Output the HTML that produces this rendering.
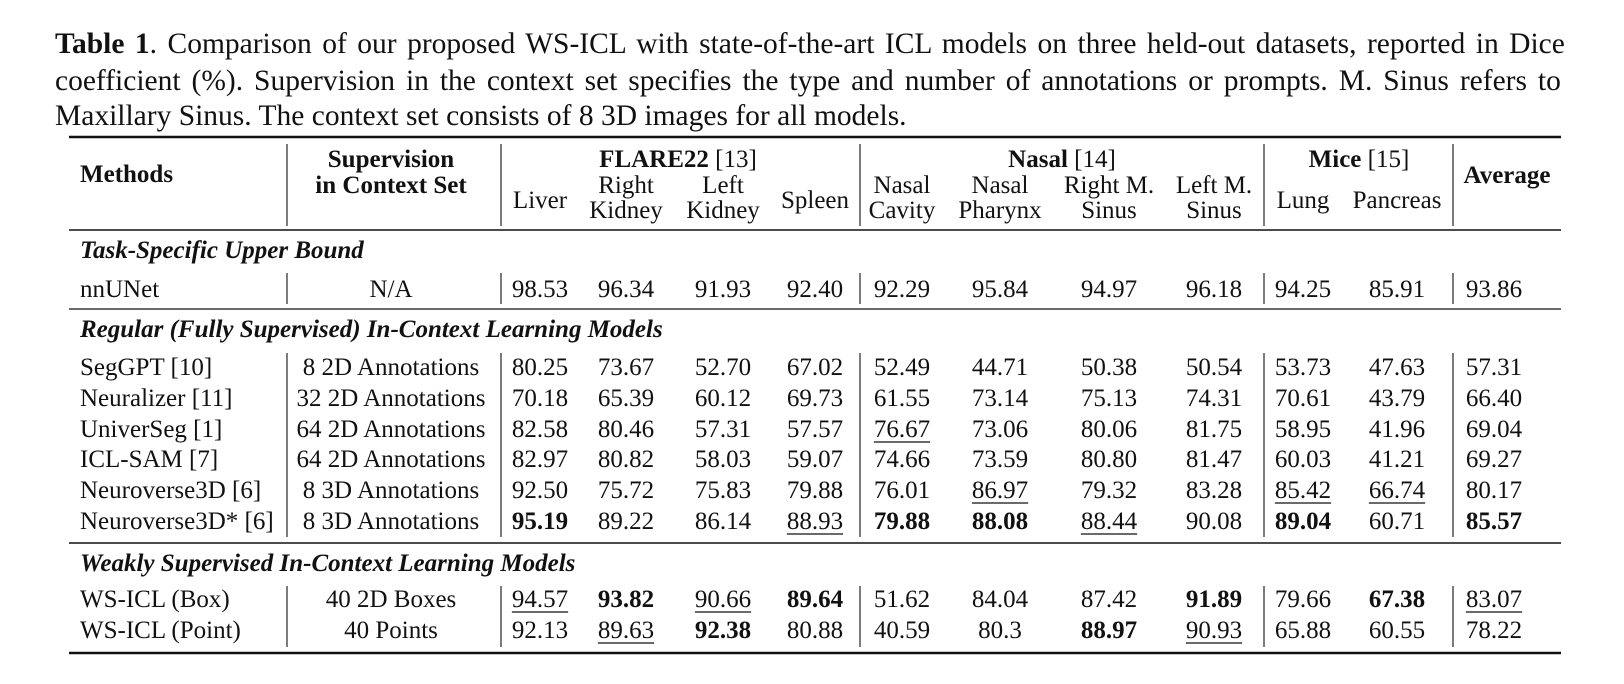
<!DOCTYPE html>
<html><head><meta charset="utf-8"><style>
html,body{margin:0;padding:0;background:#fff;width:1624px;height:684px;overflow:hidden}
svg{display:block}
text{font-family:"Liberation Serif",serif;fill:#111}
</style></head><body>
<svg id="s" width="1624" height="684">
<g id="lines"></g>
<g id="g"></g>
</svg>
<script>
const methods=["SegGPT [10]","Neuralizer [11]","UniverSeg [1]","ICL-SAM [7]","Neuroverse3D [6]","Neuroverse3D* [6]"];
const supervision=["8 2D Annotations","32 2D Annotations","64 2D Annotations","64 2D Annotations","8 3D Annotations","8 3D Annotations"];
const regular=[
["80.25","73.67","52.70","67.02","52.49","44.71","50.38","50.54","53.73","47.63","57.31"],
["70.18","65.39","60.12","69.73","61.55","73.14","75.13","74.31","70.61","43.79","66.40"],
["82.58","80.46","57.31","57.57","_76.67","73.06","80.06","81.75","58.95","41.96","69.04"],
["82.97","80.82","58.03","59.07","74.66","73.59","80.80","81.47","60.03","41.21","69.27"],
["92.50","75.72","75.83","79.88","76.01","_86.97","79.32","83.28","_85.42","_66.74","80.17"],
["*95.19","89.22","86.14","_88.93","*79.88","*88.08","_88.44","90.08","*89.04","60.71","*85.57"]];
const weakMethods=["WS-ICL (Box)","WS-ICL (Point)"];
const weakSup=["40 2D Boxes","40 Points"];
const weak=[
["_94.57","*93.82","_90.66","*89.64","51.62","84.04","87.42","*91.89","79.66","*67.38","_83.07"],
["92.13","_89.63","*92.38","80.88","40.59","80.3","*88.97","_90.93","65.88","60.55","78.22"]];
const nnunet=["98.53","96.34","91.93","92.40","92.29","95.84","94.97","96.18","94.25","85.91","93.86"];
const colX=[540,626,723,815,902,1000,1109,1214,1303,1397,1494];
const g=document.getElementById('g'),L=document.getElementById('lines');
const NS="http://www.w3.org/2000/svg";
function t(x,y,str,o){o=o||{};
 const e=document.createElementNS(NS,'text');
 e.setAttribute('x',x);e.setAttribute('y',y);
 e.setAttribute('font-size',o.fs||25);
 e.setAttribute('text-anchor',o.a||'middle');
 if(o.b)e.setAttribute('font-weight','bold');
 if(o.i)e.setAttribute('font-style','italic');
 e.textContent=str;
 
 
 g.appendChild(e);
 if(o.u){const w=e.getComputedTextLength();const x0=o.a==='start'?x:x-w/2;ln(x0,y+5,x0+w,y+5,1.3,'underline');}
 return e;}
function ln(x1,y1,x2,y2,w,n){const e=document.createElementNS(NS,'line');
 e.setAttribute('x1',x1);e.setAttribute('y1',y1);e.setAttribute('x2',x2);e.setAttribute('y2',y2);
 e.setAttribute('stroke','#111');e.setAttribute('stroke-width',w);
 
 
 L.appendChild(e);}
function val(x,y,v){let b=false,u=false;if(v[0]==='*'){b=true;v=v.slice(1);}else if(v[0]==='_'){u=true;v=v.slice(1);}
 t(x,y,v,{b:b,u:u,n:'value-cell'});}
function justify(e,x0,x1){const w=e.getComputedTextLength();const sp=(e.textContent.match(/ /g)||[]).length;
 if(sp>0)e.setAttribute('word-spacing',((x1-x0)-w)/sp);}
// caption
const FS=29.5;
const c1=t(55,53,"",{a:'start',fs:FS,n:'caption-text'});
const b1=document.createElementNS(NS,'tspan');b1.setAttribute('font-weight','bold');b1.textContent="Table 1";
const r1=document.createElementNS(NS,'tspan');r1.textContent=".  Comparison of our proposed WS-ICL with state-of-the-art ICL models on three held-out datasets, reported in Dice";
c1.appendChild(b1);c1.appendChild(r1);justify(c1,55,1568);
const c2=t(55,90,"coefficient (%).  Supervision in the context set specifies the type and number of annotations or prompts.  M. Sinus refers to",{a:'start',fs:FS,n:'caption-text'});
justify(c2,55,1568);
t(55,125,"Maxillary Sinus. The context set consists of 8 3D images for all models.",{a:'start',fs:FS,n:'caption-text'});
// rules
ln(69,137,1561,137,2.4,'top-rule');ln(69,230,1561,230,1.5,'header-rule');ln(69,309,1561,309,1.3,'section-rule');
ln(69,543,1561,543,1.5,'section-rule');ln(69,653,1561,653,2.4,'bottom-rule');
const vx=[287,501,860,1264,1453];
[[144,226],[273,304],[353,537],[586,647]].forEach(r=>vx.forEach(x=>ln(x,r[0],x,r[1],1.1,'column-divider')));
// header
t(80,182,"Methods",{a:'start',b:true,n:'header-methods'});
t(391,167,"Supervision",{b:true,n:'header-supervision'});t(391,193,"in Context Set",{b:true,n:'header-supervision'});
function grp(x,name,ref){const e=t(x,167,"",{n:'group-header'});
 const a=document.createElementNS(NS,'tspan');a.setAttribute('font-weight','bold');a.textContent=name;
 const b=document.createElementNS(NS,'tspan');b.textContent=" "+ref;e.appendChild(a);e.appendChild(b);}
grp(678,"FLARE22","[13]");grp(1062,"Nasal","[14]");grp(1359,"Mice","[15]");
t(1507,183,"Average",{b:true,n:'header-average'});
const sub=[["Liver"],["Right","Kidney"],["Left","Kidney"],["Spleen"],["Nasal","Cavity"],["Nasal","Pharynx"],["Right M.","Sinus"],["Left M.","Sinus"],["Lung"],["Pancreas"]];
sub.forEach((s,i)=>{if(s.length===1)t(colX[i],208,s[0],{n:'column-header'});else{t(colX[i],193,s[0],{n:'column-header'});t(colX[i],218,s[1],{n:'column-header'});}});
// sections
t(80,258,"Task-Specific Upper Bound",{a:'start',b:true,i:true,n:'section-title'});
t(80,297,"nnUNet",{a:'start',n:'method-name'});t(391,297,"N/A",{n:'supervision-cell'});
nnunet.forEach((v,j)=>val(colX[j],297,v));
t(80,337,"Regular (Fully Supervised) In-Context Learning Models",{a:'start',b:true,i:true,n:'section-title'});
const ry=[375,406,437,467,498,529];
regular.forEach((r,i)=>{t(80,ry[i],methods[i],{a:'start',n:'method-name'});t(391,ry[i],supervision[i],{n:'supervision-cell'});
 r.forEach((v,j)=>val(colX[j],ry[i],v));});
t(80,571,"Weakly Supervised In-Context Learning Models",{a:'start',b:true,i:true,n:'section-title'});
const wy=[607,638];
weak.forEach((r,i)=>{t(80,wy[i],weakMethods[i],{a:'start',n:'method-name'});t(391,wy[i],weakSup[i],{n:'supervision-cell'});
 r.forEach((v,j)=>val(colX[j],wy[i],v));});
</script>
</body></html>
